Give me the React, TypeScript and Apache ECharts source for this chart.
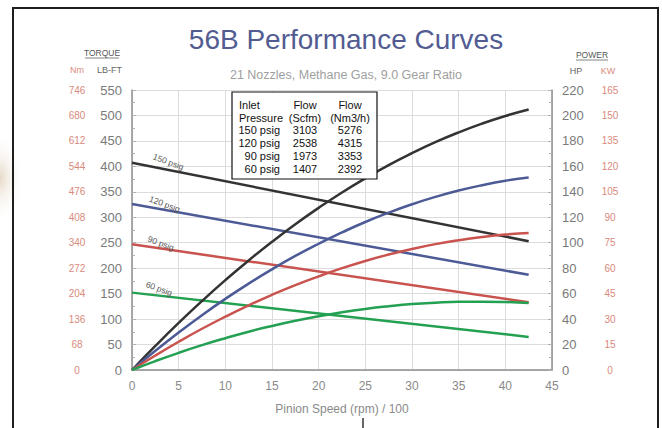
import React, { useEffect, useRef } from 'react';
import * as echarts from 'echarts';

// Pinion speed (rpm/100) sample points for the power curves
const speeds = [0, 2.5, 5, 7.5, 10, 12.5, 15, 17.5, 20, 22.5, 25, 27.5, 30, 32.5, 35, 37.5, 40, 42.5];
// Power (HP)
const hp150 = [0, 18.9, 37.0, 54.2, 70.6, 86.1, 100.7, 114.5, 127.4, 139.5, 150.6, 161.0, 170.4, 179.0, 186.7, 193.6, 199.6, 204.7];
const hp120 = [0, 15.1, 29.5, 43.1, 55.9, 67.9, 79.1, 89.6, 99.2, 108.1, 116.3, 123.6, 130.2, 136.0, 141.0, 145.2, 148.7, 151.3];
const hp90 = [0, 11.4, 22.2, 32.4, 41.9, 50.8, 59.1, 66.7, 73.6, 80.0, 85.7, 90.7, 95.1, 98.9, 102.0, 104.5, 106.4, 107.6];
const hp60 = [0, 7.0, 13.5, 19.5, 25.0, 30.1, 34.6, 38.7, 42.3, 45.4, 48.0, 50.1, 51.8, 52.9, 53.6, 53.7, 53.4, 52.6];
// Torque (LB-FT), straight lines
const torqueSpeeds = [0, 42.5];
const tq150 = [407, 253];
const tq120 = [326, 187];
const tq90 = [247, 133];
const tq60 = [152, 65];
// Torque line labels: [speed, lb-ft]
const labelNames = ['150 psig', '120 psig', '90 psig', '60 psig'];
const labelPos = [[3.9, 409], [3.5, 326], [3.1, 249], [2.9, 160]];
// Tick labels
const nmLabels = ['0', '68', '136', '204', '272', '340', '408', '476', '544', '612', '680', '746'];
// Table
const tablePressures = ['150 psig', '120 psig', '90 psig', '60 psig'];
const tableScfm = ['3103', '2538', '1973', '1407'];
const tableNm3h = ['5276', '4315', '3353', '2392'];

const colors = ['#333333', '#4c5a96', '#c9534f', '#24a052'];
const FONT = 'Liberation Sans, Arial, sans-serif';

export default function App() {
  const ref = useRef<HTMLDivElement>(null);
  useEffect(() => {
    if (!ref.current) return;
    const chart = echarts.init(ref.current, undefined, { renderer: 'svg' });
    const hpSets = [hp150, hp120, hp90, hp60];
    const tqSets = [tq150, tq120, tq90, tq60];
    const series: any[] = [];
    tqSets.forEach((t, k) => {
      series.push({
        type: 'line',
        name: 'T' + labelNames[k],
        xAxisIndex: 0,
        yAxisIndex: 0,
        data: torqueSpeeds.map((s, i) => [s, t[i]]),
        showSymbol: false,
        symbol: 'none',
        lineStyle: { color: colors[k], width: 2.5 },
        z: 3,
        markPoint: {
          symbol: 'circle',
          symbolSize: 1,
          itemStyle: { color: 'rgba(0,0,0,0)' },
          label: {
            show: true,
            position: 'inside',
            rotate: -20,
            fontSize: 8.5,
            color: '#555',
            fontFamily: FONT,
            formatter: labelNames[k],
          },
          data: [{ coord: labelPos[k] }],
        },
      });
    });
    hpSets.forEach((h, k) => {
      series.push({
        type: 'line',
        name: 'P' + labelNames[k],
        xAxisIndex: 0,
        yAxisIndex: 2,
        data: speeds.map((s, i) => [s, h[i]]),
        smooth: true,
        showSymbol: false,
        symbol: 'none',
        lineStyle: { color: colors[k], width: 2.5 },
        z: 3,
      });
    });

    const tableTexts: any[] = [];
    const rowY = [105, 117.5, 130, 143, 156, 169];
    const tStyle = (text: string, x: number, y: number, align: string) => ({
      type: 'text',
      x,
      y,
      z: 101,
      style: { text, fill: '#111', font: `11px ${FONT}`, textAlign: align, textVerticalAlign: 'middle' },
    });
    tableTexts.push(tStyle('Inlet', 239, rowY[0], 'left'));
    tableTexts.push(tStyle('Pressure', 239, rowY[1], 'left'));
    tableTexts.push(tStyle('Flow', 305, rowY[0], 'center'));
    tableTexts.push(tStyle('(Scfm)', 305, rowY[1], 'center'));
    tableTexts.push(tStyle('Flow', 350, rowY[0], 'center'));
    tableTexts.push(tStyle('(Nm3/h)', 350, rowY[1], 'center'));
    tablePressures.forEach((p, i) => {
      tableTexts.push(tStyle(p, 280, rowY[i + 2], 'right'));
      tableTexts.push(tStyle(tableScfm[i], 305, rowY[i + 2], 'center'));
      tableTexts.push(tStyle(tableNm3h[i], 350, rowY[i + 2], 'center'));
    });

    const smallText = (text: string, x: number, y: number, fill: string, align = 'center', size = 9) => ({
      type: 'text',
      x,
      y,
      z: 50,
      style: { text, fill, font: `${size}px ${FONT}`, textAlign: align, textVerticalAlign: 'middle' },
    });

    chart.setOption({
      animation: false,
      backgroundColor: '#ffffff',
      grid: { left: 132, right: 110, top: 90, bottom: 58, containLabel: false },
      xAxis: {
        type: 'value',
        min: 0,
        max: 45,
        interval: 5,
        axisLine: { show: true, onZero: false, lineStyle: { color: '#8f8f8f', width: 1.5 } },
        axisTick: { show: false },
        splitLine: { show: true, lineStyle: { color: '#dcdcdc', width: 1 } },
        axisLabel: { color: '#8a8a8a', fontSize: 12, margin: 10, fontFamily: FONT },
        name: 'Pinion Speed (rpm) / 100',
        nameLocation: 'middle',
        nameGap: 33,
        nameTextStyle: { color: '#8a8a8a', fontSize: 12, fontFamily: FONT },
      },
      yAxis: [
        {
          type: 'value',
          position: 'left',
          min: 0,
          max: 550,
          interval: 50,
          axisLine: { show: true, lineStyle: { color: '#8f8f8f', width: 1.5 } },
          axisTick: { show: true, inside: true, length: 4, lineStyle: { color: '#b0b0b0' } },
          minorTick: { show: true, splitNumber: 2, length: 3, lineStyle: { color: '#b0b0b0' } },
          splitLine: { show: true, lineStyle: { color: '#dcdcdc', width: 1 } },
          axisLabel: { color: '#7a7a7a', fontSize: 13, margin: 10, fontFamily: FONT },
        },
        {
          type: 'value',
          position: 'left',
          offset: 45,
          min: 0,
          max: 550,
          interval: 50,
          axisLine: { show: false },
          axisTick: { show: false },
          splitLine: { show: false },
          axisLabel: {
            color: '#d98a7c',
            fontSize: 10,
            margin: 10,
            align: 'center',
            fontFamily: FONT,
            formatter: (v: number) => nmLabels[Math.round(v / 50)],
          },
        },
        {
          type: 'value',
          position: 'right',
          min: 0,
          max: 220,
          interval: 20,
          axisLine: { show: true, lineStyle: { color: '#8f8f8f', width: 1.5 } },
          axisTick: { show: true, inside: true, length: 4, lineStyle: { color: '#b0b0b0' } },
          minorTick: { show: true, splitNumber: 2, length: 3, lineStyle: { color: '#b0b0b0' } },
          splitLine: { show: false },
          axisLabel: { color: '#7a7a7a', fontSize: 13, margin: 10, fontFamily: FONT },
        },
        {
          type: 'value',
          position: 'right',
          offset: 48,
          min: 0,
          max: 165,
          interval: 15,
          axisLine: { show: false },
          axisTick: { show: false },
          splitLine: { show: false },
          axisLabel: { color: '#d98a7c', fontSize: 10, margin: 10, align: 'center', fontFamily: FONT },
        },
      ],
      series,
      graphic: [
        {
          type: 'ellipse',
          z: 0,
          shape: { cx: 0, cy: 178, rx: 24, ry: 45 },
          style: {
            fill: new echarts.graphic.RadialGradient(0.5, 0.5, 0.5, [
              { offset: 0, color: 'rgba(222,204,180,0.75)' },
              { offset: 1, color: 'rgba(255,255,255,0)' },
            ]),
          },
        },
        {
          type: 'rect',
          z: 60,
          shape: { x: 13, y: 8, width: 645, height: 440 },
          style: { fill: 'none', stroke: '#1e1e1e', lineWidth: 2 },
        },
        {
          type: 'text',
          x: 346,
          y: 39,
          z: 50,
          style: {
            text: '56B Performance Curves',
            fill: '#525c92',
            font: `28px ${FONT}`,
            textAlign: 'center',
            textVerticalAlign: 'middle',
          },
        },
        {
          type: 'text',
          x: 346,
          y: 75,
          z: 50,
          style: {
            text: '21 Nozzles, Methane Gas, 9.0 Gear Ratio',
            fill: '#a0a0a0',
            font: `12.5px ${FONT}`,
            textAlign: 'center',
            textVerticalAlign: 'middle',
          },
        },
        smallText('TORQUE', 102, 53, '#555', 'center', 8.5),
        { type: 'line', z: 50, shape: { x1: 85, y1: 58, x2: 119, y2: 58 }, style: { stroke: '#666', lineWidth: 0.8 } },
        smallText('Nm', 77, 70, '#d98a7c', 'center', 9),
        smallText('LB-FT', 122, 70, '#666', 'right', 9),
        smallText('POWER', 592, 55, '#555', 'center', 8.5),
        { type: 'line', z: 50, shape: { x1: 576, y1: 60, x2: 608, y2: 60 }, style: { stroke: '#666', lineWidth: 0.8 } },
        smallText('HP', 576, 71, '#666', 'center', 9),
        smallText('KW', 608, 71, '#d98a7c', 'center', 9),
        { type: 'line', z: 50, shape: { x1: 363, y1: 418, x2: 363, y2: 430 }, style: { stroke: '#333', lineWidth: 1.5 } },
        {
          type: 'rect',
          z: 100,
          shape: { x: 232, y: 92, width: 145, height: 87 },
          style: { fill: '#ffffff', stroke: '#111', lineWidth: 1.2 },
        },
        ...tableTexts,
      ],
    });
    return () => chart.dispose();
  }, []);
  return (
    <div
      ref={ref}
      style={{ position: 'fixed', left: 0, top: 0, width: 662, height: 428, background: '#fff' }}
    />
  );
}
